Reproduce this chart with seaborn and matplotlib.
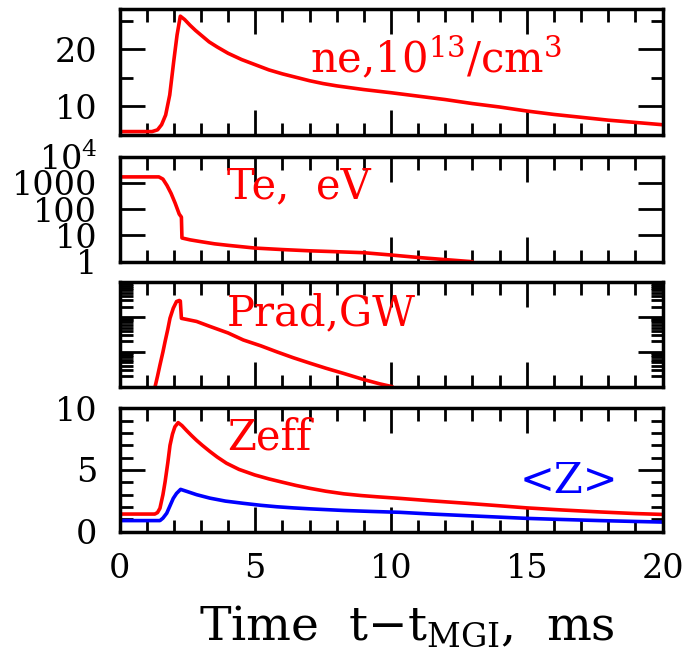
import numpy as np
import pandas as pd
import matplotlib
matplotlib.use("Agg")
import matplotlib.pyplot as plt
from matplotlib.ticker import FixedLocator, MultipleLocator, FuncFormatter, LogLocator, NullFormatter
import seaborn as sns

# ---- data: time after gas injection (ms) and plasma quantities ----
t_ne = [0, 1.2, 1.4, 1.55, 1.7, 1.85, 2.0, 2.12, 2.24, 2.4, 2.6, 2.8, 3.0,
        3.3, 3.6, 4.0, 4.5, 5.0, 5.5, 6.0, 6.5, 7.0, 7.5, 8.0, 9.0, 10.0,
        11.0, 12.0, 13.0, 14.0, 15.0, 16.0, 17.0, 18.0, 19.0, 20.0]
ne = [5.6, 5.6, 5.9, 6.8, 8.5, 12.0, 18.0, 22.5, 25.8, 25.2, 24.2, 23.3, 22.5,
      21.3, 20.4, 19.3, 18.2, 17.3, 16.4, 15.7, 15.1, 14.5, 14.0, 13.6,
      12.95, 12.4, 11.8, 11.2, 10.5, 9.9, 9.2, 8.6, 8.1, 7.6, 7.2, 6.8]

t_te = [0, 1.45, 1.6, 1.75, 1.9, 2.05, 2.2, 2.28, 2.3, 2.6, 3.0, 3.5, 4.0, 5.0,
        6.0, 7.0, 8.0, 9.0, 10.0, 11.0, 12.0, 13.0]
te = [1700, 1700, 1400, 800, 400, 170, 65, 50, 8, 6.8, 5.8, 4.8, 4.2, 3.3,
      2.9, 2.6, 2.4, 2.2, 1.8, 1.45, 1.2, 1.0]

t_prad = [1.31, 1.4, 1.49, 1.6, 1.68, 1.78, 1.86, 1.98, 2.1, 2.2, 2.24, 2.28,
          2.5, 2.84, 3.33, 4.0, 4.56, 5.2, 5.8, 6.4, 7.03, 7.6, 8.26, 9.0,
          9.6, 10.05]
prad = [0.01, 0.02, 0.042, 0.1, 0.2, 0.45, 0.93, 1.8, 2.8, 3.0, 2.9, 0.92,
        0.85, 0.75, 0.54, 0.35, 0.22, 0.15, 0.1, 0.068, 0.047, 0.034, 0.024,
        0.016, 0.012, 0.01]

t_zeff = [0, 1.3, 1.4, 1.49, 1.6, 1.68, 1.78, 1.86, 1.95, 2.04, 2.16, 2.3,
          2.47, 2.65, 2.84, 3.05, 3.33, 3.6, 3.94, 4.4, 4.98, 5.5, 6.02, 6.5,
          7.0, 7.6, 8.26, 8.9, 9.48, 10.33, 11.5, 12.79, 14.0, 15.0, 16.3,
          17.7, 19.0, 20.0]
zeff = [1.43, 1.43, 1.55, 1.9, 3.0, 4.05, 5.6, 7.0, 7.9, 8.5, 8.84, 8.6, 8.2,
        7.8, 7.4, 7.0, 6.5, 6.05, 5.55, 5.05, 4.6, 4.28, 4.0, 3.75, 3.52,
        3.28, 3.07, 2.93, 2.83, 2.7, 2.5, 2.3, 2.1, 1.93, 1.76, 1.6, 1.47,
        1.4]

t_zavg = [0, 1.49, 1.6, 1.74, 1.86, 1.98, 2.1, 2.25, 2.5, 2.84, 3.33, 3.9,
          4.56, 5.2, 5.8, 6.4, 7.03, 8.26, 9.3, 10.33, 11.5, 12.79, 14.0,
          15.0, 16.3, 17.7, 19.0, 20.0]
zavg = [0.9, 0.9, 1.1, 1.5, 2.1, 2.7, 3.1, 3.43, 3.25, 3.0, 2.72, 2.48, 2.3,
        2.14, 2.02, 1.93, 1.85, 1.72, 1.64, 1.57, 1.43, 1.3, 1.18, 1.08,
        0.99, 0.9, 0.83, 0.78]

te_ticks = [1, 10, 100, 1000, 10000]
te_tick_labels = ["1", "10", "100", "1000", "$10^4$"]
x_ticks = [0, 5, 10, 15, 20]

RED = "#ff0000"
BLUE = "#0000ff"

sns.set_style("ticks")
plt.rcParams["font.family"] = ["DejaVu Serif"]
plt.rcParams["mathtext.fontset"] = "dejavuserif"
for key in ("text.color", "axes.labelcolor", "xtick.color", "ytick.color",
            "axes.edgecolor"):
    plt.rcParams[key] = "black"

W, H = 686, 655
fig = plt.figure(figsize=(W / 100, H / 100), dpi=100)


def box(top, bottom, left=119.5, right=662.5):
    return [left / W, 1 - bottom / H, (right - left) / W, (bottom - top) / H]


ax1 = fig.add_axes(box(9.3, 135))
ax2 = fig.add_axes(box(156.7, 261.7))
ax3 = fig.add_axes(box(282.3, 386.7))
ax4 = fig.add_axes(box(408.3, 531.7))
axes = [ax1, ax2, ax3, ax4]

lw = 2.6
sns.lineplot(x=t_ne, y=ne, ax=ax1, color=RED, lw=lw, sort=False, estimator=None)
sns.lineplot(x=t_te, y=te, ax=ax2, color=RED, lw=lw, sort=False, estimator=None)
sns.lineplot(x=t_prad, y=prad, ax=ax3, color=RED, lw=lw, sort=False, estimator=None)
sns.lineplot(x=t_zeff, y=zeff, ax=ax4, color=RED, lw=lw, sort=False, estimator=None)
sns.lineplot(x=t_zavg, y=zavg, ax=ax4, color=BLUE, lw=lw, sort=False, estimator=None)

for ax in axes:
    ax.set_xlim(0, 20)
    ax.xaxis.set_major_locator(FixedLocator(x_ticks))
    ax.xaxis.set_minor_locator(MultipleLocator(1))
    ax.tick_params(which="both", direction="in", top=True, right=True,
                   width=2.0, color="black", labelcolor="black",
                   labelsize=24, pad=16)
    ax.tick_params(which="major", length=18)
    ax.tick_params(which="minor", length=9)
    for s in ax.spines.values():
        s.set_linewidth(2.5)
        s.set_color("black")
    ax.set_xlabel("")
    ax.set_ylabel("")
    if ax is not ax4:
        ax.tick_params(axis="x", which="both", labelbottom=False)

# density panel
ax1.set_ylim(5, 27)
ax1.yaxis.set_major_locator(FixedLocator([10, 20]))
ax1.yaxis.set_minor_locator(MultipleLocator(5))

# electron temperature panel (log)
ax2.set_yscale("log")
ax2.set_ylim(1, 1e4)
ax2.yaxis.set_major_locator(FixedLocator(te_ticks))
ax2.yaxis.set_major_formatter(FuncFormatter(
    lambda v, p: te_tick_labels[te_ticks.index(int(round(v)))] if int(round(v)) in te_ticks else ""))
ax2.yaxis.set_minor_locator(LogLocator(base=10, subs=np.arange(2, 10)))
ax2.yaxis.set_minor_formatter(NullFormatter())

# radiated power panel (log, unlabeled)
ax3.set_yscale("log")
ax3.set_ylim(0.01, 10)
ax3.yaxis.set_major_locator(LogLocator(base=10, numticks=10))
ax3.yaxis.set_minor_locator(LogLocator(base=10, subs=np.arange(2, 10), numticks=10))
ax3.tick_params(axis="y", which="both", labelleft=False)

# charge panel
ax4.set_ylim(0, 10)
ax4.yaxis.set_major_locator(FixedLocator([0, 5, 10]))
ax4.yaxis.set_minor_locator(MultipleLocator(1))
ax4.tick_params(axis="x", which="both", pad=15)

ax4.set_xlabel("Time  t$-$t$_{\\mathrm{MGI}}$,  ms", fontsize=34, color="black")
ax4.xaxis.set_label_coords(0.53, -0.59)
ax4.xaxis.label.set_va("top")


def label(x, y, s, color=RED, size=30):
    fig.text(x / W, 1 - y / H, s, color=color, fontsize=size,
             ha="left", va="baseline")


label(310, 73, "ne,10$^{13}$/cm$^{3}$")
label(227, 198, "Te,  eV")
label(227, 325, "Prad,GW")
label(227, 450, "Zeff")
label(520, 493, "<Z>", color=BLUE)

fig.savefig("out.png", dpi=100)
